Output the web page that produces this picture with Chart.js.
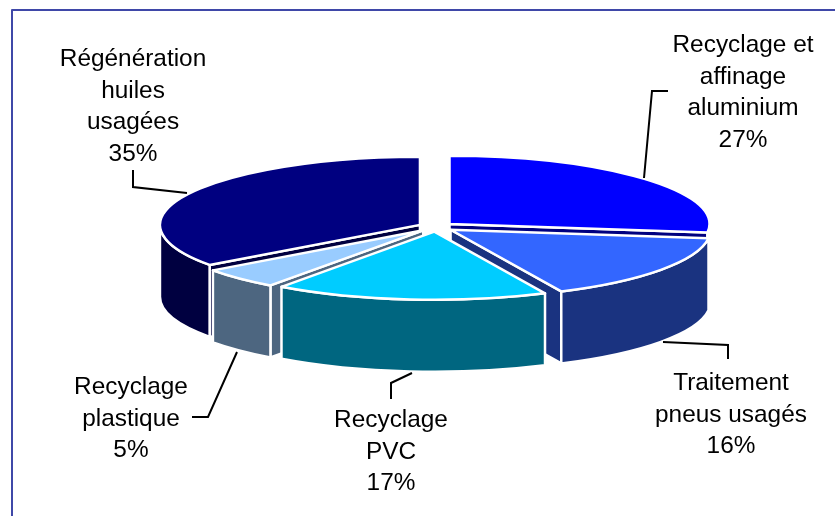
<!DOCTYPE html>
<html>
<head>
<meta charset="utf-8">
<style>
  html, body { margin: 0; padding: 0; background: #fff; overflow: hidden; }
  canvas { display: block; }
</style>
<script src="https://cdn.jsdelivr.net/npm/chart.js@4/dist/chart.umd.min.js"></script>
</head>
<body>
<canvas id="pieChart" width="835" height="516"></canvas>
<script>
const categories = ['Recyclage et affinage aluminium', 'Traitement pneus usagés', 'Recyclage PVC', 'Recyclage plastique', 'Régénération huiles usagées'];
const shares = [27, 16, 17, 5, 35];
const labelLines = [
    ['Recyclage et', 'affinage', 'aluminium'],
    ['Traitement', 'pneus usagés'],
    ['Recyclage', 'PVC'],
    ['Recyclage', 'plastique'],
    ['Régénération', 'huiles', 'usagées']
];
const topColors = ['#0000FF', '#3366FF', '#00CCFF', '#99CCFF', '#000080'];
const wallColors = ['#000080', '#1A3380', '#006680', '#4D6680', '#000040'];

// Look of the tilted pie
const tilt = 0.262;      // height/width of the top ellipse
const depth = 72;        // wall height
const explode = 18;      // how far each slice is pulled out
const paintOrder = [4, 0, 3, 1, 2]; // back to front

// Text block for each slice: centre x and baseline of the first line
const labelPos = [
    { x: 743, y: 52 },
    { x: 731, y: 390 },
    { x: 391, y: 427 },
    { x: 131, y: 394 },
    { x: 133, y: 66 }
];
const leaders = [
    [[668, 91], [652, 91], [644, 178]],
    [[663, 342], [728, 345], [728, 359]],
    [[412, 373], [391, 383], [391, 399]],
    [[237, 352], [208, 417], [192, 417]],
    [[133, 170], [133, 187], [187, 193]]
];

function drawWalls(ctx, arc, index, cx, cy) {
    const a = arc.startAngle, b = arc.endAngle, r = arc.outerRadius;
    const ry = r * tilt;
    ctx.fillStyle = wallColors[index];
    ctx.strokeStyle = '#fff';
    ctx.lineWidth = 2.5;
    ctx.lineJoin = 'round';

    const cutFace = function (angle) {
        const px = cx + r * Math.cos(angle), py = cy + ry * Math.sin(angle);
        ctx.beginPath();
        ctx.moveTo(cx, cy);
        ctx.lineTo(px, py);
        ctx.lineTo(px, py + depth);
        ctx.lineTo(cx, cy + depth);
        ctx.closePath();
        ctx.fill();
        ctx.stroke();
    };
    // only the cut faces turned toward the viewer
    if (Math.cos(a) < -1e-6) cutFace(a);
    if (Math.cos(b) > 1e-6) cutFace(b);

    // rim, limited to the front half of the ellipse
    const t0 = Math.max(a, 0), t1 = Math.min(b, Math.PI);
    if (t1 > t0) {
        ctx.beginPath();
        ctx.ellipse(cx, cy, r, ry, 0, t0, t1);
        ctx.ellipse(cx, cy + depth, r, ry, 0, t1, t0, true);
        ctx.closePath();
        ctx.fill();
        ctx.stroke();
    }
}

function drawTop(ctx, arc, cx, cy) {
    ctx.save();
    ctx.translate(cx, cy);
    ctx.scale(1, tilt);
    ctx.translate(-arc.x, -arc.y);
    arc.draw(ctx);
    ctx.restore();

    // white outline in screen pixels, so it stays even after the squash
    ctx.beginPath();
    ctx.moveTo(cx, cy);
    ctx.ellipse(cx, cy, arc.outerRadius, arc.outerRadius * tilt, 0, arc.startAngle, arc.endAngle);
    ctx.closePath();
    ctx.strokeStyle = '#fff';
    ctx.lineWidth = 2.5;
    ctx.lineJoin = 'round';
    ctx.stroke();
}

const pie3d = {
    id: 'pie3d',
    beforeDatasetsDraw(chart) {
        const ctx = chart.ctx;
        const arcs = chart.getDatasetMeta(0).data;
        paintOrder.forEach(function (i) {
            const arc = arcs[i];
            const mid = (arc.startAngle + arc.endAngle) / 2;
            const cx = arc.x + explode * Math.cos(mid);
            const cy = arc.y + explode * tilt * Math.sin(mid);
            drawWalls(ctx, arc, i, cx, cy);
            drawTop(ctx, arc, cx, cy);
        });
        return false; // slices are painted above
    }
};

const annotations = {
    id: 'annotations',
    afterDraw(chart) {
        const ctx = chart.ctx;
        ctx.save();

        // frame runs off the right and bottom of the page
        ctx.strokeStyle = '#3F48A8';
        ctx.lineWidth = 2;
        ctx.beginPath();
        ctx.moveTo(12, 516);
        ctx.lineTo(12, 10);
        ctx.lineTo(835, 10);
        ctx.stroke();

        // leader lines
        ctx.strokeStyle = '#000';
        ctx.lineWidth = 2;
        ctx.lineJoin = 'miter';
        leaders.forEach(function (pts) {
            ctx.beginPath();
            pts.forEach(function (p, n) {
                if (n === 0) ctx.moveTo(p[0], p[1]);
                else ctx.lineTo(p[0], p[1]);
            });
            ctx.stroke();
        });

        // labels
        ctx.fillStyle = '#000';
        ctx.font = '24.4px "Liberation Sans", Arial, sans-serif';
        ctx.textAlign = 'center';
        ctx.textBaseline = 'alphabetic';
        labelLines.forEach(function (lines, i) {
            lines.concat([shares[i] + '%']).forEach(function (text, n) {
                ctx.fillText(text, labelPos[i].x, labelPos[i].y + n * 31.6);
            });
        });
        ctx.restore();
    }
};

new Chart(document.getElementById('pieChart').getContext('2d'), {
    type: 'pie',
    data: {
        labels: categories,
        datasets: [{
            data: shares,
            backgroundColor: topColors,
            borderWidth: 0
        }]
    },
    options: {
        responsive: false,
        animation: false,
        radius: 260,
        layout: { padding: { left: 37, right: 0, top: 0, bottom: 62 } },
        plugins: {
            legend: { display: false },
            tooltip: { enabled: false }
        }
    },
    plugins: [pie3d, annotations]
});
</script>
</body>
</html>
